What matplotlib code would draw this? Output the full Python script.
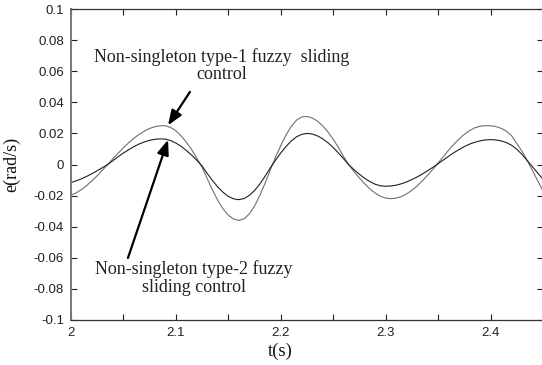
import numpy as np
import matplotlib
matplotlib.use("Agg")
import matplotlib.pyplot as plt
from matplotlib.ticker import FixedLocator, FuncFormatter

# time samples, 5 ms apart
t = [2.000, 2.005, 2.010, 2.015, 2.020, 2.025, 2.030, 2.035, 2.040, 2.045,
     2.050, 2.055, 2.060, 2.065, 2.070, 2.075, 2.080, 2.085, 2.090, 2.095,
     2.100, 2.105, 2.110, 2.115, 2.120, 2.125, 2.130, 2.135, 2.140, 2.145,
     2.150, 2.155, 2.160, 2.165, 2.170, 2.175, 2.180, 2.185, 2.190, 2.195,
     2.200, 2.205, 2.210, 2.215, 2.220, 2.225, 2.230, 2.235, 2.240, 2.245,
     2.250, 2.255, 2.260, 2.265, 2.270, 2.275, 2.280, 2.285, 2.290, 2.295,
     2.300, 2.305, 2.310, 2.315, 2.320, 2.325, 2.330, 2.335, 2.340, 2.345,
     2.350, 2.355, 2.360, 2.365, 2.370, 2.375, 2.380, 2.385, 2.390, 2.395,
     2.400, 2.405, 2.410, 2.415, 2.420, 2.425, 2.430, 2.435, 2.440, 2.445,
     2.450]

# velocity error, non-singleton type-1 fuzzy sliding control
e_type1 = [-0.0197, -0.0182, -0.0161, -0.0135, -0.0105, -0.0072, -0.0036, 0.0000, 0.0037, 0.0073,
           0.0108, 0.0140, 0.0169, 0.0194, 0.0215, 0.0232, 0.0243, 0.0249, 0.0249, 0.0238,
           0.0217, 0.0184, 0.0143, 0.0096, 0.0040, -0.0018, -0.0093, -0.0166, -0.0231, -0.0286,
           -0.0326, -0.0351, -0.0360, -0.0349, -0.0318, -0.0267, -0.0200, -0.0121, -0.0035, 0.0047,
           0.0122, 0.0190, 0.0245, 0.0285, 0.0306, 0.0309, 0.0299, 0.0279, 0.0248, 0.0209,
           0.0162, 0.0109, 0.0050, -0.0003, -0.0047, -0.0087, -0.0124, -0.0157, -0.0184, -0.0204,
           -0.0216, -0.0220, -0.0216, -0.0206, -0.0189, -0.0166, -0.0138, -0.0105, -0.0069, -0.0031,
           0.0009, 0.0051, 0.0092, 0.0130, 0.0164, 0.0194, 0.0218, 0.0236, 0.0246, 0.0250,
           0.0249, 0.0244, 0.0233, 0.0215, 0.0185, 0.0135, 0.0085, 0.0025, -0.0040, -0.0105,
           -0.0170]

# velocity error, non-singleton type-2 fuzzy sliding control
e_type2 = [-0.0116, -0.0105, -0.0092, -0.0076, -0.0059, -0.0040, -0.0020, 0.0000, 0.0025, 0.0050,
           0.0074, 0.0095, 0.0115, 0.0132, 0.0145, 0.0156, 0.0162, 0.0165, 0.0163, 0.0154,
           0.0138, 0.0117, 0.0090, 0.0060, 0.0027, -0.0010, -0.0059, -0.0104, -0.0145, -0.0179,
           -0.0205, -0.0221, -0.0226, -0.0219, -0.0199, -0.0167, -0.0126, -0.0076, -0.0022, 0.0028,
           0.0074, 0.0116, 0.0151, 0.0178, 0.0194, 0.0200, 0.0196, 0.0184, 0.0165, 0.0140,
           0.0109, 0.0074, 0.0036, -0.0003, -0.0034, -0.0063, -0.0089, -0.0110, -0.0127, -0.0137,
           -0.0140, -0.0138, -0.0133, -0.0124, -0.0112, -0.0097, -0.0080, -0.0061, -0.0040, -0.0018,
           0.0005, 0.0029, 0.0053, 0.0076, 0.0096, 0.0115, 0.0131, 0.0143, 0.0152, 0.0158,
           0.0160, 0.0158, 0.0152, 0.0141, 0.0124, 0.0098, 0.0065, 0.0025, -0.0015, -0.0055,
           -0.0095]

x_ticks = [2.0, 2.05, 2.1, 2.15, 2.2, 2.25, 2.3, 2.35, 2.4, 2.45]
y_ticks = [-0.1, -0.08, -0.06, -0.04, -0.02, 0.0, 0.02, 0.04, 0.06, 0.08, 0.1]

label1 = "Non-singleton type-1 fuzzy  sliding\ncontrol"
label2 = "Non-singleton type-2 fuzzy\nsliding control"

serif = ["Liberation Serif", "DejaVu Serif"]

fig = plt.figure(figsize=(5.42, 3.65), dpi=100)
ax = fig.add_axes([71 / 542, 45 / 365, 472 / 542, 311 / 365])

ax.plot(t, e_type1, color="#707070", lw=0.8)
ax.plot(t, e_type2, color="#202020", lw=0.8)

ax.set_xlim(2.0, 2.45)
ax.set_ylim(-0.1, 0.1)

ax.xaxis.set_major_locator(FixedLocator(x_ticks))
ax.yaxis.set_major_locator(FixedLocator(y_ticks))


def fmt_x(v, pos):
    if abs(v * 10 - round(v * 10)) < 1e-6:
        return "%g" % round(v, 1)
    return ""


def fmt_y(v, pos):
    if abs(v) < 1e-9:
        return "0"
    return "%g" % round(v, 2)


ax.xaxis.set_major_formatter(FuncFormatter(fmt_x))
ax.yaxis.set_major_formatter(FuncFormatter(fmt_y))

ax.tick_params(direction="in", length=4, width=0.8, top=True, right=True,
               labelsize=9.5, labelcolor="#222222", colors="#222222",
               labelfontfamily="Liberation Sans")
ax.tick_params(axis="x", pad=5)
ax.tick_params(axis="y", pad=5)
for s in ax.spines.values():
    s.set_color("#333333")
    s.set_linewidth(0.9)
ax.spines["left"].set_linewidth(1.4)
ax.spines["left"].set_color("#777777")

ax.set_xlabel("t(s)", family=serif, fontsize=13.5, color="#111111")
ax.xaxis.set_label_coords(0.443, -0.072)
ax.set_ylabel("e(rad/s)", family=serif, fontsize=13, color="#111111", va="center")
ax.yaxis.set_label_coords(-0.125, 0.5)

arrow = dict(arrowstyle="-|>,head_length=0.9,head_width=0.35", color="black",
             lw=1.6, shrinkA=0, shrinkB=0)

ax.annotate("", xy=(2.0925, 0.0252), xytext=(2.1134, 0.0467), arrowprops=arrow)
ax.annotate("", xy=(2.0925, 0.0159), xytext=(2.0543, -0.0601), arrowprops=arrow)

ax.text(2.144, 0.0636, label1, family=serif, fontsize=13, color="#222222",
        ha="center", va="center", linespacing=1.05)
ax.text(2.1173, -0.0730, label2, family=serif, fontsize=13, color="#222222",
        ha="center", va="center", linespacing=1.05)

fig.savefig("out.png", dpi=100)
